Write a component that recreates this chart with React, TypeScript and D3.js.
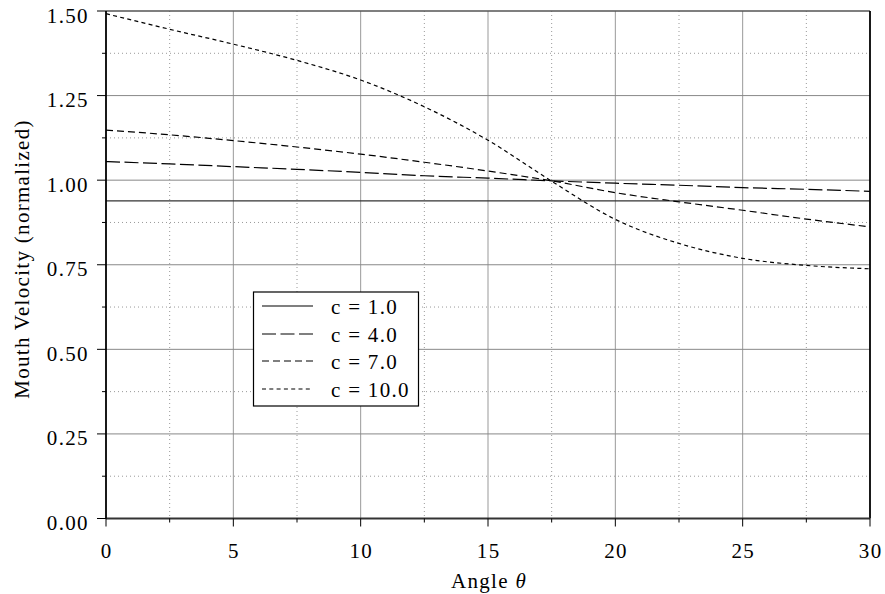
import React from "react";
import * as d3 from "d3";

const angles = [0, 2.5, 5, 7.5, 10, 12.5, 15, 17.5, 20, 22.5, 25, 27.5, 30];
const c1 = [0.939, 0.939, 0.939, 0.939, 0.939, 0.939, 0.939, 0.939, 0.939, 0.939, 0.939, 0.939, 0.939];
const c4 = [1.055, 1.048, 1.040, 1.032, 1.023, 1.013, 1.006, 0.998, 0.991, 0.985, 0.978, 0.973, 0.967];
const c7 = [1.148, 1.134, 1.117, 1.098, 1.077, 1.053, 1.027, 0.998, 0.963, 0.936, 0.911, 0.885, 0.862];
const c10 = [1.492, 1.446, 1.402, 1.354, 1.296, 1.217, 1.118, 0.997, 0.884, 0.813, 0.769, 0.748, 0.738];

const seriesNames = ["c = 1.0", "c = 4.0", "c = 7.0", "c = 10.0"];
const xTicks = [0, 5, 10, 15, 20, 25, 30];
const xMinor = [2.5, 7.5, 12.5, 17.5, 22.5, 27.5];
const yTicks = [0, 0.25, 0.5, 0.75, 1.0, 1.25, 1.5];
const yMinor = [0.125, 0.375, 0.625, 0.875, 1.125, 1.375];

const dashes = ["none", "14,4.5", "7,4", "4,3.3"];

export default function App() {
  const W = 885, H = 594;
  const L = 106, R = 870, T = 11, B = 518.5;
  const x = d3.scaleLinear().domain([0, 30]).range([L, R]);
  const y = d3.scaleLinear().domain([0, 1.5]).range([B, T]);
  const all = [c1, c4, c7, c10];
  const line = d3.line<number>().x((_, i) => x(angles[i])).y((d) => y(d)).curve(d3.curveMonotoneX);
  const font = "'Liberation Serif', 'Times New Roman', serif";
  const ls = 1.3;
  const lg = { x0: 253.5, y0: 292, w: 165, h: 114 };
  const rowsY = [306, 334, 361, 389];
  return (
    <svg width={W} height={H} style={{ position: "absolute", left: 0, top: 0, background: "#fff" }}>
      <rect x={0} y={0} width={W} height={H} fill="#fff" />
      {/* minor grid */}
      {xMinor.map((v) => (
        <line key={"xm" + v} x1={x(v)} x2={x(v)} y1={T} y2={B} stroke="#999" strokeWidth={1} strokeDasharray="1,3" />
      ))}
      {yMinor.map((v) => (
        <line key={"ym" + v} x1={L} x2={R} y1={y(v)} y2={y(v)} stroke="#999" strokeWidth={1} strokeDasharray="1,3" />
      ))}
      {/* major grid */}
      {xTicks.slice(1, -1).map((v) => (
        <line key={"xg" + v} x1={x(v)} x2={x(v)} y1={T} y2={B} stroke="#999" strokeWidth={1} />
      ))}
      {yTicks.slice(1, -1).map((v) => (
        <line key={"yg" + v} x1={L} x2={R} y1={y(v)} y2={y(v)} stroke="#888" strokeWidth={1} />
      ))}
      {/* curves */}
      {all.map((s, i) => (
        <path key={"s" + i} d={line(s) || ""} fill="none" stroke={i === 0 ? "#333" : "#000"} strokeWidth={1.2} strokeDasharray={dashes[i]} />
      ))}
      {/* frame */}
      <line x1={L} x2={R} y1={T} y2={T} stroke="#555" strokeWidth={1.5} />
      <line x1={R} x2={R} y1={T} y2={B} stroke="#000" strokeWidth={1.8} />
      <line x1={L} x2={R} y1={B} y2={B} stroke="#333" strokeWidth={1.8} />
      <line x1={L} x2={L} y1={T} y2={B} stroke="#000" strokeWidth={1.8} />
      {/* ticks */}
      {xTicks.map((v) => (
        <g key={"xt" + v}>
          <line x1={x(v)} x2={x(v)} y1={B} y2={B + 8} stroke="#000" strokeWidth={1} />
          <text x={x(v) + ls / 2} y={558} textAnchor="middle" fontFamily={font} fontSize={21} letterSpacing={ls} fill="#000">{v}</text>
        </g>
      ))}
      {xMinor.map((v) => (
        <line key={"xmt" + v} x1={x(v)} x2={x(v)} y1={B} y2={B + 4} stroke="#000" strokeWidth={1} />
      ))}
      {yTicks.map((v) => (
        <g key={"yt" + v}>
          <line x1={L - 9} x2={L} y1={y(v)} y2={y(v)} stroke="#000" strokeWidth={1} />
          <text x={87.5 + ls} y={y(v) + 11.5} textAnchor="end" fontFamily={font} fontSize={21} letterSpacing={ls} fill="#000">{v.toFixed(2)}</text>
        </g>
      ))}
      {yMinor.map((v) => (
        <line key={"ymt" + v} x1={L - 4} x2={L} y1={y(v)} y2={y(v)} stroke="#000" strokeWidth={1} />
      ))}
      {/* axis labels */}
      <text x={489} y={588} textAnchor="middle" fontFamily={font} fontSize={21} letterSpacing={ls} fill="#000">
        Angle <tspan fontStyle="italic">θ</tspan>
      </text>
      <text transform={`translate(29,259) rotate(-90)`} textAnchor="middle" fontFamily={font} fontSize={21} letterSpacing={ls} fill="#000">
        Mouth Velocity (normalized)
      </text>
      {/* legend */}
      <rect x={lg.x0} y={lg.y0} width={lg.w} height={lg.h} fill="#fff" stroke="#000" strokeWidth={1.2} />
      {seriesNames.map((n, i) => (
        <g key={"lg" + i}>
          <line x1={262} x2={313} y1={rowsY[i]} y2={rowsY[i]} stroke="#000" strokeWidth={1.2} strokeDasharray={dashes[i]} />
          <text x={331} y={rowsY[i] + 8.3} fontFamily={font} fontSize={21} letterSpacing={ls} fill="#000">{n}</text>
        </g>
      ))}
    </svg>
  );
}
